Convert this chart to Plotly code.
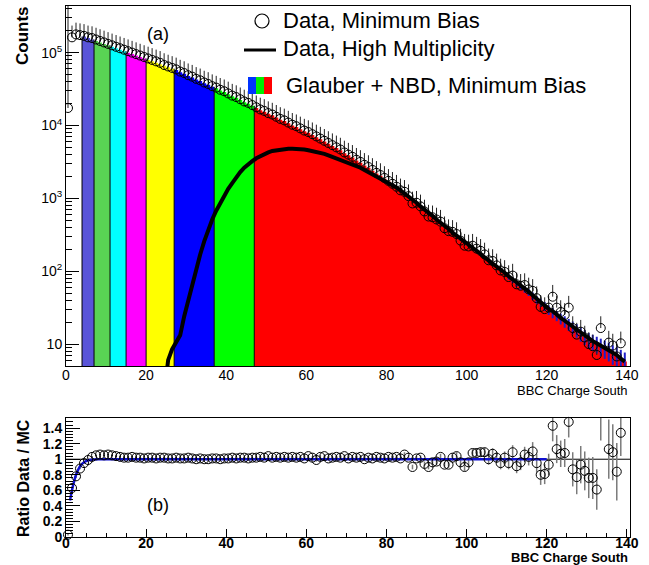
import plotly.graph_objects as go

# ---------------- data ----------------
N_BINS = 140
bbc_bin_centers = [i + 0.5 for i in range(N_BINS)]

# Data, Minimum Bias : log10(counts) per BBC charge bin (0.5 ... 139.5)
log10_data_min_bias = [
    4.24, 5.21, 5.25, 5.24, 5.23, 5.21, 5.20, 5.18, 5.16, 5.14,
    5.12, 5.10, 5.08, 5.06, 5.04, 5.02, 5.00, 4.98, 4.96, 4.94,
    4.92, 4.90, 4.88, 4.86, 4.83, 4.81, 4.79, 4.77, 4.74, 4.72,
    4.69, 4.67, 4.64, 4.62, 4.59, 4.57, 4.54, 4.52, 4.49, 4.47,
    4.44, 4.41, 4.39, 4.36, 4.33, 4.31, 4.28, 4.25, 4.22, 4.20,
    4.17, 4.15, 4.12, 4.09, 4.07, 4.04, 4.01, 3.99, 3.96, 3.93,
    3.91, 3.88, 3.85, 3.82, 3.79, 3.76, 3.73, 3.70, 3.67, 3.63,
    3.60, 3.57, 3.53, 3.50, 3.46, 3.43, 3.39, 3.35, 3.32, 3.28,
    3.24, 3.20, 3.16, 3.11, 3.09, 3.03, 2.93, 2.94, 2.89, 2.82,
    2.75, 2.74, 2.71, 2.68, 2.59, 2.55, 2.54, 2.51, 2.42, 2.35,
    2.34, 2.35, 2.31, 2.28, 2.23, 2.15, 2.14, 2.08, 2.01, 1.99,
    1.92, 1.94, 1.82, 1.80, 1.81, 1.75, 1.73, 1.63, 1.51, 1.48,
    1.50, 1.65, 1.50, 1.44, 1.40, 1.50, 1.22, 1.13, 1.17, 1.09,
    1.00, 0.97, 0.85, 1.22, None, 1.02, 0.98, 0.83, 1.01, None,
]

# Glauber + NBD (MC) : log10(counts) for bins 4 ... 139
log10_glauber_nbd = [
    5.22, 5.20, 5.18, 5.16, 5.14, 5.12, 5.10, 5.08, 5.06, 5.04,
    5.02, 5.00, 4.98, 4.96, 4.94, 4.92, 4.90, 4.88, 4.86, 4.84,
    4.82, 4.80, 4.78, 4.76, 4.73, 4.71, 4.68, 4.66, 4.63, 4.61,
    4.58, 4.56, 4.53, 4.51, 4.48, 4.46, 4.43, 4.40, 4.38, 4.35,
    4.32, 4.30, 4.27, 4.24, 4.21, 4.19, 4.16, 4.14, 4.11, 4.08,
    4.06, 4.03, 4.00, 3.98, 3.95, 3.92, 3.90, 3.87, 3.84, 3.81,
    3.78, 3.75, 3.72, 3.69, 3.66, 3.62, 3.59, 3.56, 3.52, 3.49,
    3.45, 3.42, 3.38, 3.34, 3.31, 3.27, 3.23, 3.19, 3.15, 3.10,
    3.06, 3.02, 2.97, 2.93, 2.88, 2.84, 2.79, 2.75, 2.70, 2.66,
    2.61, 2.57, 2.52, 2.48, 2.43, 2.39, 2.35, 2.31, 2.27, 2.23,
    2.18, 2.14, 2.10, 2.06, 2.02, 1.97, 1.92, 1.88, 1.83, 1.79,
    1.75, 1.71, 1.66, 1.61, 1.57, 1.52, 1.47, 1.43, 1.39, 1.35,
    1.31, 1.27, 1.23, 1.19, 1.14, 1.10, 1.06, 1.03, 1.00, 0.97,
    0.94, 0.91, 0.87, 0.84, 0.80, 0.76,
]
MC_FIRST_BIN = 4

# MC relative statistical error, bins 110 ... 139
mc_rel_err_tail = [
    0.08, 0.09, 0.09, 0.10, 0.10, 0.11, 0.12, 0.12, 0.13, 0.14,
    0.15, 0.16, 0.16, 0.17, 0.18, 0.19, 0.20, 0.21, 0.22, 0.23,
    0.24, 0.25, 0.26, 0.27, 0.28, 0.29, 0.30, 0.31, 0.32, 0.33,
]
MC_ERR_FIRST_BIN = 110

# Data, High Multiplicity : log10(counts), bins 24.5 ... 139.5
hm_bin_centers = [i + 0.5 for i in range(24, N_BINS)]
log10_data_high_mult = [
    0.30, 0.78, 0.93, 1.03, 1.12, 1.38, 1.60, 1.82, 2.03, 2.23,
    2.41, 2.57, 2.71, 2.83, 2.94, 3.04, 3.13, 3.21, 3.29, 3.36,
    3.42, 3.47, 3.51, 3.55, 3.58, 3.61, 3.63, 3.65, 3.66, 3.67,
    3.68, 3.68, 3.68, 3.68, 3.67, 3.67, 3.66, 3.65, 3.64, 3.63,
    3.61, 3.59, 3.57, 3.55, 3.53, 3.51, 3.49, 3.47, 3.44, 3.42,
    3.39, 3.36, 3.33, 3.30, 3.28, 3.25, 3.22, 3.19, 3.15, 3.11,
    3.07, 3.03, 2.98, 2.94, 2.89, 2.85, 2.80, 2.76, 2.71, 2.67,
    2.62, 2.58, 2.53, 2.49, 2.44, 2.40, 2.36, 2.32, 2.28, 2.24,
    2.19, 2.15, 2.11, 2.07, 2.03, 1.98, 1.93, 1.89, 1.84, 1.80,
    1.76, 1.72, 1.67, 1.62, 1.58, 1.53, 1.48, 1.45, 1.40, 1.36,
    1.32, 1.28, 1.24, 1.20, 1.15, 1.11, 1.07, 1.04, 1.01, 0.98,
    0.95, 0.92, 0.88, 0.85, 0.80, 0.76,
]

# Ratio Data / MC
ratio_data_mc = [
    0.03, 0.63, 0.78, 0.88, 0.95, 0.99, 1.03, 1.05, 1.06, 1.05,
    1.06, 1.05, 1.04, 1.03, 1.02, 1.02, 1.03, 1.02, 1.02, 1.01,
    1.02, 1.02, 1.01, 1.02, 1.02, 1.01, 1.01, 1.02, 1.01, 1.01,
    1.02, 1.01, 1.00, 1.01, 1.00, 1.00, 1.01, 1.01, 1.00, 1.01,
    1.01, 1.02, 1.01, 1.02, 1.02, 1.01, 1.02, 1.02, 1.03, 1.02,
    1.04, 1.02, 1.03, 1.02, 1.03, 1.02, 1.03, 1.02, 1.03, 1.01,
    1.04, 1.02, 0.99, 1.03, 1.04, 1.01, 1.02, 1.03, 1.02, 1.04,
    1.01, 1.03, 1.02, 1.03, 1.00, 1.02, 1.01, 1.03, 1.02, 1.01,
    1.03, 1.02, 1.03, 1.01, 1.06, 1.02, 0.90, 1.01, 1.02, 0.94,
    0.90, 0.96, 0.97, 1.03, 0.93, 0.93, 1.02, 1.04, 0.96, 0.90,
    0.96, 1.08, 1.08, 1.09, 1.09, 1.00, 1.07, 1.02, 0.95, 1.02,
    0.95, 1.09, 0.91, 0.96, 1.06, 1.03, 1.10, 0.95, 0.80, 0.81,
    0.93, 1.43, 1.13, 1.07, 1.08, 1.48, 0.87, 0.77, 0.93, 0.85,
    0.76, 0.76, 0.61, 1.54, None, 1.13, 1.09, 0.84, 1.34, None,
]
ratio_err = [
    0.01, 0.02, 0.02, 0.01, 0.01, 0.01, 0.01, 0.01, 0.01, 0.01,
    0.01, 0.01, 0.01, 0.01, 0.01, 0.01, 0.01, 0.01, 0.01, 0.01,
    0.01, 0.01, 0.01, 0.01, 0.01, 0.01, 0.01, 0.01, 0.01, 0.01,
    0.01, 0.01, 0.01, 0.01, 0.01, 0.01, 0.01, 0.01, 0.01, 0.01,
    0.01, 0.01, 0.01, 0.01, 0.01, 0.01, 0.01, 0.01, 0.01, 0.01,
    0.01, 0.01, 0.01, 0.01, 0.01, 0.01, 0.01, 0.01, 0.01, 0.01,
    0.02, 0.02, 0.02, 0.02, 0.02, 0.02, 0.02, 0.02, 0.02, 0.02,
    0.02, 0.02, 0.02, 0.02, 0.02, 0.02, 0.02, 0.02, 0.02, 0.02,
    0.02, 0.02, 0.02, 0.02, 0.03, 0.03, 0.03, 0.03, 0.03, 0.03,
    0.03, 0.03, 0.04, 0.04, 0.04, 0.04, 0.04, 0.05, 0.05, 0.05,
    0.05, 0.05, 0.06, 0.06, 0.06, 0.07, 0.07, 0.07, 0.08, 0.08,
    0.08, 0.09, 0.09, 0.10, 0.10, 0.11, 0.12, 0.12, 0.13, 0.13,
    0.14, 0.20, 0.18, 0.17, 0.18, 0.20, 0.22, 0.22, 0.24, 0.25,
    0.26, 0.27, 0.26, 0.30, None, 0.38, 0.36, 0.37, 0.30, None,
]

# Trigger-efficiency fit (blue curve in panel b)
fit_x = [1.0, 1.5, 2.0, 2.5, 3.0, 3.5, 4.0, 5.0, 6.0, 7.0, 8.0, 120.0]
fit_y = [0.47, 0.60, 0.71, 0.80, 0.86, 0.91, 0.94, 0.975, 0.99, 0.997, 1.0, 1.0]

# Centrality classes of the Glauber + NBD distribution
centrality_edges = [4, 7, 11, 15, 20, 27, 37, 47, 140]
centrality_colors = ["#5954d8", "#59d454", "#00ffff", "#ff00ff",
                     "#ffff00", "#0000ff", "#00ff00", "#ff0000"]

x_tick_vals = [0, 20, 40, 60, 80, 100, 120, 140]
y_top_tick_vals = [10, 100, 1000, 10000, 100000]
y_top_tick_text = ["10", "10<sup>2</sup>", "10<sup>3</sup>", "10<sup>4</sup>", "10<sup>5</sup>"]
first_bin_err_to = 6e5

# ---------------- style constants ----------------
FONT = "Liberation Sans, Arial, Helvetica, sans-serif"
Y_TOP_LOG_RANGE = [0.699, 5.64]
X_RANGE = [0, 140.8]
TICK_UP_FACTOR = 0.45

data_counts = [None if v is None else 10 ** v for v in log10_data_min_bias]
mc_counts = [None] * MC_FIRST_BIN + [10 ** v for v in log10_glauber_nbd]
hm_counts = [10 ** v for v in log10_data_high_mult]

fig = go.Figure()

# --- MC centrality bands (filled step histogram) ---
for k in range(len(centrality_edges) - 1):
    a, b = centrality_edges[k], centrality_edges[k + 1]
    xs = list(range(a, b)) + [b]
    ys = [mc_counts[i] for i in range(a, b)] + [mc_counts[b - 1]]
    fig.add_trace(go.Scatter(
        x=xs, y=ys, mode="lines", line=dict(width=0, shape="hv", color=centrality_colors[k]),
        fill="tozeroy", fillcolor=centrality_colors[k], showlegend=False, hoverinfo="skip",
        xaxis="x", yaxis="y"))

# boundary lines between centrality classes
y_floor = 10 ** Y_TOP_LOG_RANGE[0]
for e in centrality_edges[:-1]:
    tops = [mc_counts[i] for i in (e - 1, e) if mc_counts[i] is not None]
    fig.add_trace(go.Scatter(x=[e, e], y=[y_floor * 0.5, max(tops)], mode="lines",
                             line=dict(color="black", width=1), showlegend=False,
                             hoverinfo="skip", xaxis="x", yaxis="y"))

# MC error bars (blue) at high charge
tail_x = bbc_bin_centers[MC_ERR_FIRST_BIN:]
tail_y = mc_counts[MC_ERR_FIRST_BIN:]
fig.add_trace(go.Scatter(
    x=tail_x, y=tail_y, mode="markers", marker=dict(size=1, color="rgba(0,0,0,0)"),
    error_y=dict(type="data", array=[y * r for y, r in zip(tail_y, mc_rel_err_tail)],
                 color="#1f1fc8", thickness=2, width=0),
    showlegend=False, hoverinfo="skip", xaxis="x", yaxis="y"))

# Data, minimum bias
err_up = [None if c is None else c * TICK_UP_FACTOR for c in data_counts]
err_up[0] = first_bin_err_to
fig.add_trace(go.Scatter(
    x=bbc_bin_centers, y=data_counts, mode="markers",
    marker=dict(symbol="circle-open", size=9, color="black", line=dict(width=1, color="black")),
    error_y=dict(type="data", symmetric=False, array=err_up,
                 arrayminus=[0] * N_BINS, color="#222222", thickness=1, width=0),
    showlegend=False, xaxis="x", yaxis="y"))

# Data, high multiplicity
fig.add_trace(go.Scatter(
    x=hm_bin_centers, y=hm_counts, mode="lines", line=dict(color="black", width=4),
    showlegend=False, xaxis="x", yaxis="y"))

# ---------------- ratio panel ----------------
fig.add_shape(type="line", xref="x2 domain", yref="y2", x0=0, x1=1, y0=1, y1=1,
              line=dict(color="black", width=1), layer="below")

fig.add_trace(go.Scatter(
    x=bbc_bin_centers, y=ratio_data_mc, mode="markers",
    marker=dict(size=1, color="rgba(0,0,0,0)"),
    error_y=dict(type="data", array=ratio_err, color="#7a7a7a", thickness=1.5, width=0),
    showlegend=False, hoverinfo="skip", xaxis="x2", yaxis="y2"))

fig.add_trace(go.Scatter(
    x=fit_x, y=fit_y, mode="lines", line=dict(color="#1010d0", width=2.5, shape="spline"),
    showlegend=False, xaxis="x2", yaxis="y2"))

fig.add_trace(go.Scatter(
    x=bbc_bin_centers, y=ratio_data_mc, mode="markers", cliponaxis=False,
    marker=dict(symbol="circle-open", size=9, color="black", line=dict(width=1, color="black")),
    showlegend=False, xaxis="x2", yaxis="y2"))

# ---------------- layout ----------------
W, H = 649, 565
ML, MR, MT, MB = 66, 19, 6, 28
plot_w = W - ML - MR
plot_h = H - MT - MB


def px_x(px):
    return (px - ML) / plot_w


def px_y(py):
    return (H - MB - py) / plot_h


top_domain = [px_y(366), 1.0]
bot_domain = [0.0, px_y(418)]

axis_common = dict(showline=True, linecolor="black", linewidth=1, mirror=True,
                   showgrid=False, zeroline=False, automargin=False)

y_minor_vals = [m * 10 ** p for p in range(0, 6) for m in range(2, 10)]

fig.update_layout(
    width=W, height=H, margin=dict(l=ML, r=MR, t=MT, b=MB, autoexpand=False),
    paper_bgcolor="white", plot_bgcolor="white",
    font=dict(family=FONT, color="black"),
    showlegend=False,
    xaxis=dict(domain=[0, 1], anchor="y", range=X_RANGE, tickvals=x_tick_vals,
               ticks="", tickfont=dict(size=14), ticklabelstandoff=-4, **axis_common),
    yaxis=dict(domain=top_domain, anchor="x", type="log", range=Y_TOP_LOG_RANGE,
               tickvals=y_top_tick_vals, ticktext=y_top_tick_text,
               ticks="inside", ticklen=13, tickcolor="black", tickfont=dict(size=14),
               minor=dict(ticks="inside", ticklen=6, tickcolor="black", tickvals=y_minor_vals),
               **axis_common),
    xaxis2=dict(domain=[0, 1], anchor="y2", range=X_RANGE, tickvals=x_tick_vals,
                ticks="inside", ticklen=8, tickcolor="black", ticklabelstandoff=-7,
                tickfont=dict(size=14, weight="bold"),
                minor=dict(ticks="inside", ticklen=4, dtick=5, tick0=0, tickcolor="black"),
                **axis_common),
    yaxis2=dict(domain=bot_domain, anchor="x2", range=[0, 1.53], dtick=0.2, tick0=0,
                ticks="inside", ticklen=14, tickcolor="black",
                tickfont=dict(size=14, weight="bold"),
                minor=dict(ticks="inside", ticklen=7, dtick=0.04, tick0=0, tickcolor="black"),
                **axis_common),
)

ann = []
leg_font = dict(family=FONT, size=22, color="black")
ann.append(dict(x=px_x(281), y=px_y(21), text="Data, Minimum Bias", xanchor="left",
                yanchor="middle", font=leg_font))
ann.append(dict(x=px_x(281), y=px_y(49), text="Data, High Multiplicity", xanchor="left",
                yanchor="middle", font=leg_font))
ann.append(dict(x=px_x(284), y=px_y(85), text="Glauber + NBD, Minimum Bias", xanchor="left",
                yanchor="middle", font=leg_font))
ann.append(dict(x=px_x(158), y=px_y(34), text="(a)", xanchor="center", yanchor="middle",
                font=dict(family=FONT, size=18)))
ann.append(dict(x=px_x(158), y=px_y(505), text="(b)", xanchor="center", yanchor="middle",
                font=dict(family=FONT, size=18)))
ann.append(dict(x=px_x(22), y=px_y(36), text="Counts", textangle=-90, xanchor="center",
                yanchor="middle", font=dict(family=FONT, size=17, weight="bold")))
ann.append(dict(x=px_x(23), y=px_y(478), text="Ratio Data / MC", textangle=-90,
                xanchor="center", yanchor="middle", font=dict(family=FONT, size=16, weight="bold")))
ann.append(dict(x=1.0, y=px_y(390), text="BBC Charge South", xanchor="right", yanchor="middle",
                font=dict(family=FONT, size=13)))
ann.append(dict(x=1.0, y=px_y(557), text="BBC Charge South", xanchor="right", yanchor="middle",
                font=dict(family=FONT, size=13, weight="bold")))
for a in ann:
    a.update(xref="paper", yref="paper", showarrow=False)
fig.update_layout(annotations=ann)

# legend symbols
shapes = [
    dict(type="circle", x0=px_x(255), x1=px_x(269), y0=px_y(28), y1=px_y(14),
         line=dict(color="black", width=1.2)),
    dict(type="line", x0=px_x(244), x1=px_x(276), y0=px_y(50), y1=px_y(50),
         line=dict(color="black", width=3)),
]
for c, (x0, x1) in zip(["#0033ff", "#00ee00", "#ff0000"], [(248, 256), (256, 264), (264, 272)]):
    shapes.append(dict(type="rect", x0=px_x(x0), x1=px_x(x1), y0=px_y(94), y1=px_y(77),
                       fillcolor=c, line=dict(width=0)))
for s in shapes:
    s.update(xref="paper", yref="paper")
    fig.add_shape(**s)

fig.write_html("out.html", config={"displayModeBar": False},
               post_script="document.body.style.margin='0px';document.body.style.padding='0px';")
